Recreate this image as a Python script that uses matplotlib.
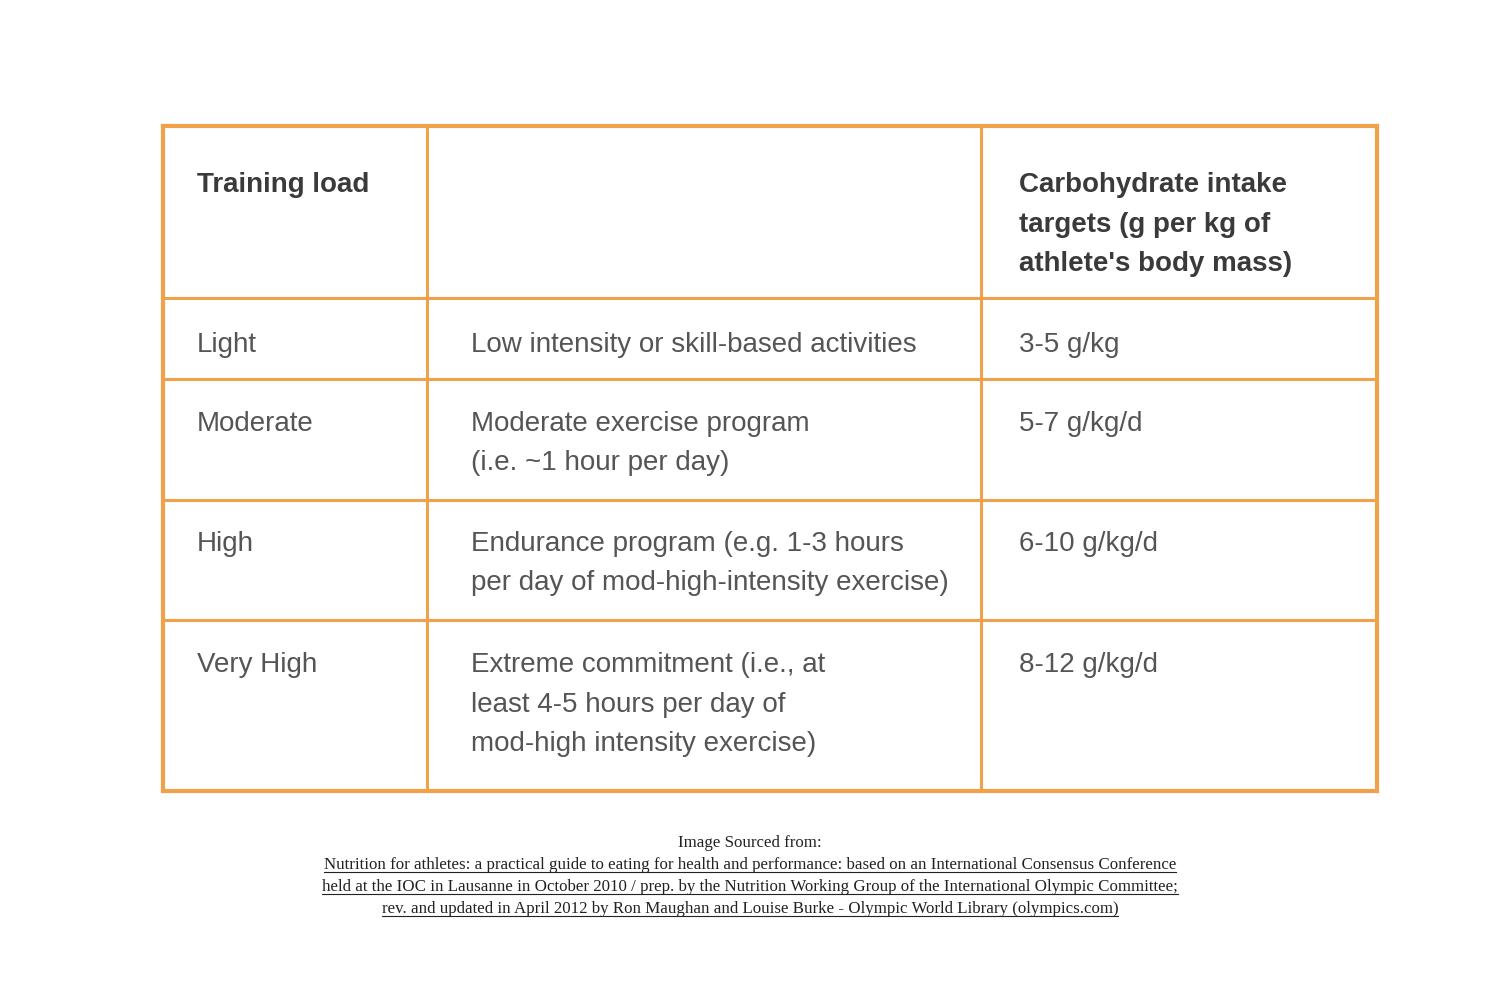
import matplotlib
matplotlib.use('Agg')
import matplotlib.pyplot as plt
from matplotlib import font_manager

# table content
headers = ['Training load', '', "Carbohydrate intake\ntargets (g per kg of\nathlete's body mass)"]
loads = ['Light', 'Moderate', 'High', 'Very High']
descriptions = [
    'Low intensity or skill-based activities',
    'Moderate exercise program\n(i.e. ~1 hour per day)',
    'Endurance program (e.g. 1-3 hours\nper day of mod-high-intensity exercise)',
    'Extreme commitment (i.e., at\nleast 4-5 hours per day of\nmod-high intensity exercise)',
]
targets = ['3-5 g/kg', '5-7 g/kg/d', '6-10 g/kg/d', '8-12 g/kg/d']

caption_title = 'Image Sourced from:'
caption_lines = [
    'Nutrition for athletes: a practical guide to eating for health and performance: based on an International Consensus Conference',
    'held at the IOC in Lausanne in October 2010 / prep. by the Nutrition Working Group of the International Olympic Committee;',
    'rev. and updated in April 2012 by Ron Maughan and Louise Burke - Olympic World Library (olympics.com)',
]

# layout in pixels (y down)
col_edges = [163, 427, 981, 1377]
row_edges = [126, 298, 379, 500, 620, 791]
text_x = [197, 471, 1019]
first_baseline = [192, 352, 431, 551, 672]
line_gap = 39.5
orange = '#F0A24A'

names = {f.name for f in font_manager.fontManager.ttflist}
sans = 'Liberation Sans Narrow' if 'Liberation Sans Narrow' in names else 'Liberation Sans'
body_size = 22 if sans == 'Liberation Sans Narrow' else 20

fig = plt.figure(figsize=(15, 10), dpi=100)
ax = fig.add_axes([0, 0, 1, 1])
ax.set_xlim(0, 1500)
ax.set_ylim(1000, 0)
ax.axis('off')

# grid lines
for i, y in enumerate(row_edges):
    lw = 3.0 if i in (0, len(row_edges) - 1) else 2.2
    ax.plot([col_edges[0], col_edges[-1]], [y, y], color=orange, lw=lw, solid_capstyle='projecting')
for i, x in enumerate(col_edges):
    lw = 3.0 if i in (0, len(col_edges) - 1) else 2.2
    ax.plot([x, x], [row_edges[0], row_edges[-1]], color=orange, lw=lw, solid_capstyle='projecting')


def cell(x, y, s, bold=False):
    for k, line in enumerate(s.split('\n')):
        ax.text(x, y + k * line_gap, line, fontsize=body_size, family=sans,
                fontweight='bold' if bold else 'normal',
                color='#3a3a3a' if bold else '#555555', va='baseline', ha='left')


for c, h in enumerate(headers):
    if h:
        cell(text_x[c], first_baseline[0], h, bold=True)
for r in range(len(loads)):
    y = first_baseline[r + 1]
    cell(text_x[0], y, loads[r])
    cell(text_x[1], y, descriptions[r])
    cell(text_x[2], y, targets[r])

# caption
serif = 'Liberation Serif'
cap_size = 12.2
ax.text(750, 847, caption_title, fontsize=cap_size, family=serif, color='#222222', ha='center', va='baseline')
cap_texts = []
for k, line in enumerate(caption_lines):
    t = ax.text(750, 869 + k * 22, line, fontsize=cap_size, family=serif, color='#222222',
                ha='center', va='baseline')
    cap_texts.append((t, 869 + k * 22))

fig.canvas.draw()
renderer = fig.canvas.get_renderer()
inv = ax.transData.inverted()
for t, yb in cap_texts:
    bb = t.get_window_extent(renderer)
    x0 = inv.transform((bb.x0, 0))[0]
    x1 = inv.transform((bb.x1, 0))[0]
    ax.plot([x0, x1], [yb + 3, yb + 3], color='#222222', lw=0.8)

fig.savefig('out.png', dpi=100, facecolor='white')
